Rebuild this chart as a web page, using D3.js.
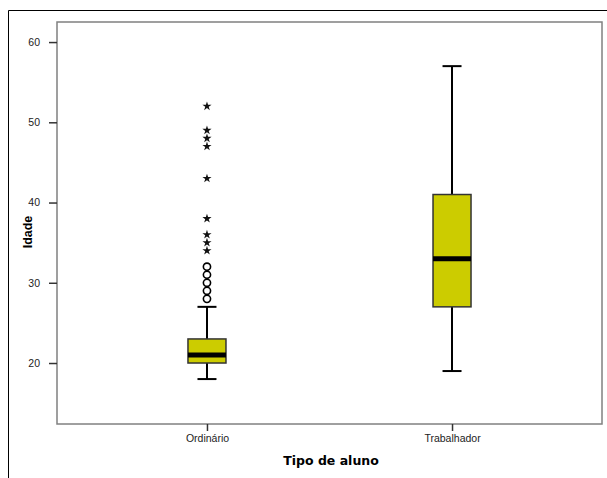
<!DOCTYPE html>
<html><head><meta charset="utf-8">
<script src="https://cdn.jsdelivr.net/npm/d3@7"></script>
<style>body{margin:0;background:#fff;}</style>
</head><body><svg id="c" width="607" height="478"></svg>
<script>
const categories = ["Ordinário", "Trabalhador"];
const whiskerLow = [18, 19];
const q1 = [20, 27];
const median = [21, 33];
const q3 = [23, 41];
const whiskerHigh = [27, 57];
const outlierCategory = ["Ordinário", "Ordinário", "Ordinário", "Ordinário", "Ordinário"];
const outlierValues = [28, 29, 30, 31, 32];
const extremeCategory = ["Ordinário", "Ordinário", "Ordinário", "Ordinário", "Ordinário", "Ordinário", "Ordinário", "Ordinário", "Ordinário"];
const extremeValues = [34, 35, 36, 38, 43, 47, 48, 49, 52];
const yTicks = [20, 30, 40, 50, 60];

const svg = d3.select("#c");
const L = 57, R = 602, T = 22, B = 424;
// outer frame
svg.append("path").attr("d", `M8.5,478 V10.5 H607`).attr("fill", "none").attr("stroke", "#000").attr("stroke-width", 1);

const y = d3.scaleLinear().domain([12.4, 62.5]).range([B, T]);
const x = d3.scalePoint().domain(categories).range([L, R]).padding(0.612);

svg.append("rect").attr("x", L).attr("y", T).attr("width", R - L).attr("height", B - T)
  .attr("fill", "none").attr("stroke", "#808080").attr("stroke-width", 1.5);

const yAxis = svg.append("g").attr("transform", `translate(${L},0)`)
  .call(d3.axisLeft(y).tickValues(yTicks).tickSize(8).tickPadding(9));
yAxis.select(".domain").remove();
yAxis.selectAll("line").attr("stroke", "#333").attr("stroke-width", 1.5);
yAxis.selectAll("text").attr("font-family", "Liberation Sans, Arial, sans-serif").attr("font-size", 10.5).attr("fill", "#222");

const xAxis = svg.append("g").attr("transform", `translate(0,${B})`)
  .call(d3.axisBottom(x).tickSize(7).tickPadding(4));
xAxis.select(".domain").remove();
xAxis.selectAll("line").attr("stroke", "#333").attr("stroke-width", 1.5);
xAxis.selectAll("text").attr("font-family", "Liberation Sans, Arial, sans-serif").attr("font-size", 10.5).attr("fill", "#222");

svg.append("text").attr("x", 331).attr("y", 465).attr("text-anchor", "middle")
  .attr("font-family", "DejaVu Sans, sans-serif").attr("font-weight", "bold").attr("font-size", 12.5).text("Tipo de aluno");
svg.append("text").attr("transform", "translate(32,232) rotate(-90)").attr("text-anchor", "middle")
  .attr("font-family", "Liberation Sans, Arial, sans-serif").attr("font-weight", "bold").attr("font-size", 12.5).text("Idade");

const boxW = 38, capW = 19;
const data = categories.map((c, i) => ({c, lo: whiskerLow[i], q1: q1[i], med: median[i], q3: q3[i], hi: whiskerHigh[i]}));
const g = svg.append("g");
data.forEach(d => {
  const cx = x(d.c);
  g.append("line").attr("x1", cx).attr("x2", cx).attr("y1", y(d.hi)).attr("y2", y(d.q3)).attr("stroke", "#000").attr("stroke-width", 2);
  g.append("line").attr("x1", cx).attr("x2", cx).attr("y1", y(d.q1)).attr("y2", y(d.lo)).attr("stroke", "#000").attr("stroke-width", 2);
  g.append("line").attr("x1", cx - capW / 2).attr("x2", cx + capW / 2).attr("y1", y(d.hi)).attr("y2", y(d.hi)).attr("stroke", "#000").attr("stroke-width", 2);
  g.append("line").attr("x1", cx - capW / 2).attr("x2", cx + capW / 2).attr("y1", y(d.lo)).attr("y2", y(d.lo)).attr("stroke", "#000").attr("stroke-width", 2);
  g.append("rect").attr("x", cx - boxW / 2).attr("y", y(d.q3)).attr("width", boxW).attr("height", y(d.q1) - y(d.q3))
    .attr("fill", "#cccc00").attr("stroke", "#333").attr("stroke-width", 1.5);
  g.append("line").attr("x1", cx - boxW / 2).attr("x2", cx + boxW / 2).attr("y1", y(d.med)).attr("y2", y(d.med)).attr("stroke", "#000").attr("stroke-width", 5);
});

outlierValues.forEach((v, i) => {
  g.append("circle").attr("cx", x(outlierCategory[i])).attr("cy", y(v)).attr("r", 3.6)
    .attr("fill", "#fff").attr("stroke", "#000").attr("stroke-width", 1.6);
});
const star = d3.symbol().type(d3.symbolStar).size(26);
extremeValues.forEach((v, i) => {
  g.append("path").attr("d", star()).attr("transform", `translate(${x(extremeCategory[i])},${y(v)})`).attr("fill", "#111");
});
</script></body></html>
